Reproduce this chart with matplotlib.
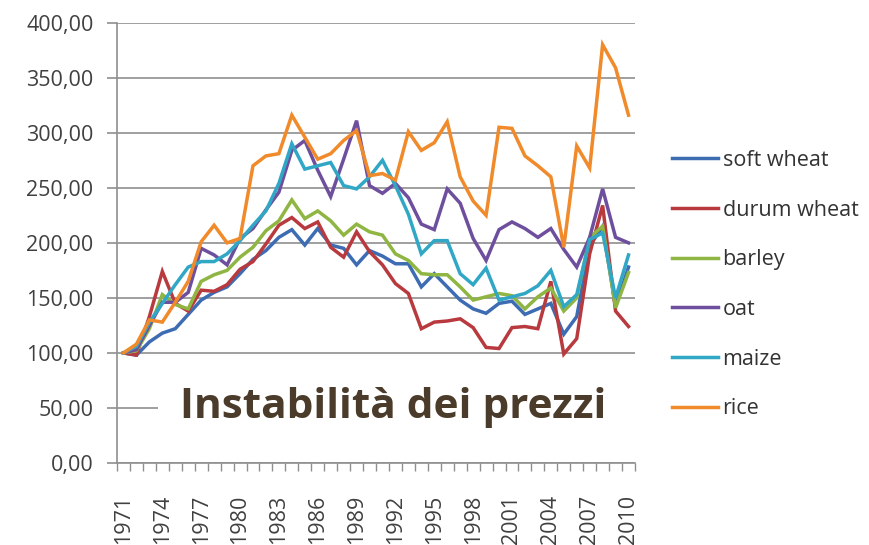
import numpy as np
import matplotlib.pyplot as plt
from matplotlib.patches import Rectangle

# price index, 1971 = 100
years = list(range(1971, 2011))

soft_wheat = [100, 98, 110, 118, 122, 135, 148, 155, 160, 172,
              185, 193, 205, 212, 198, 213, 198, 195, 180, 193,
              188, 181, 181, 160, 172, 160, 148, 140, 136, 145,
              147, 135, 140, 145, 117, 133, 197, 215, 142, 178]
durum_wheat = [100, 98, 133, 174, 145, 138, 157, 156, 162, 176,
               183, 199, 216, 223, 213, 219, 196, 187, 210, 192,
               180, 163, 154, 122, 128, 129, 131, 123, 105, 104,
               123, 124, 122, 165, 99, 113, 190, 234, 138, 124]
barley = [100, 102, 122, 153, 144, 140, 165, 171, 175, 187,
          196, 211, 220, 239, 222, 229, 220, 207, 217, 210,
          207, 190, 184, 172, 171, 171, 160, 148, 151, 154,
          152, 140, 151, 159, 138, 150, 205, 215, 141, 173]
oat = [100, 103, 125, 146, 146, 155, 195, 189, 180, 204,
       213, 230, 246, 284, 293, 266, 242, 276, 311, 252,
       245, 254, 241, 217, 212, 249, 236, 204, 184, 212,
       219, 213, 205, 213, 194, 178, 205, 249, 205, 200]
maize = [100, 106, 128, 145, 162, 178, 183, 183, 190, 202,
         216, 229, 254, 290, 267, 270, 273, 252, 249, 260,
         275, 252, 226, 190, 202, 202, 172, 162, 177, 148,
         151, 154, 161, 175, 142, 153, 203, 209, 150, 189]
rice = [100, 108, 130, 128, 146, 165, 201, 216, 200, 204,
        270, 279, 281, 316, 296, 276, 281, 293, 302, 261,
        263, 257, 301, 284, 291, 310, 260, 238, 225, 305,
        304, 279, 270, 260, 196, 288, 268, 380, 359, 316]

series = [("soft wheat", soft_wheat, "#3d6cb3"),
          ("durum wheat", durum_wheat, "#b83a3f"),
          ("barley", barley, "#8fb642"),
          ("oat", oat, "#6e4f9e"),
          ("maize", maize, "#31a7c6"),
          ("rice", rice, "#f08a2a")]

W, H = 869, 545
fig = plt.figure(figsize=(W / 100, H / 100), dpi=100)
ax = fig.add_axes([117 / W, (H - 463) / H, (635 - 117) / W, (463 - 22.7) / H])

x = np.arange(len(years))
for name, vals, col in series:
    ax.plot(x, vals, color=col, lw=2.5, label=name, solid_joinstyle="miter")

ax.set_xlim(-0.5, len(years) - 0.5)
ax.set_ylim(0, 400)

grid_col = "#8f8f8f"
ax.set_yticks(np.arange(0, 401, 50))
ax.set_yticklabels([f"{v:.2f}".replace(".", ",") for v in np.arange(0, 401, 50)])
ax.yaxis.grid(True, color=grid_col, lw=1.2)
ax.set_axisbelow(True)

ax.set_xticks(x[::3])
ax.set_xticklabels([str(y) for y in years[::3]], rotation=90)
ax.set_xticks(np.arange(-0.5, len(years)), minor=True)

for s in ("top", "right"):
    ax.spines[s].set_visible(False)
for s in ("left", "bottom"):
    ax.spines[s].set_color(grid_col)
    ax.spines[s].set_linewidth(1.2)

lab_font = dict(family="Open Sans", size=15.5)
ax.tick_params(axis="y", length=7, width=1.2, color=grid_col, pad=10,
               labelcolor="#404040", labelsize=15.5)
ax.tick_params(axis="x", which="major", length=0, pad=23,
               labelcolor="#404040", labelsize=15.5)
ax.tick_params(axis="x", which="minor", length=6, width=1, color=grid_col)
for t in ax.get_xticklabels() + ax.get_yticklabels():
    t.set_fontfamily("Open Sans")

leg = fig.legend(loc="upper left", bbox_to_anchor=(672 / W, (H - 150) / H),
                 frameon=False, borderpad=0, borderaxespad=0,
                 handlelength=2.15, handletextpad=0.2, labelspacing=1.33,
                 prop=lab_font)
for t in leg.get_texts():
    t.set_color("#333333")

# white band behind the overlay title
fig.patches.append(Rectangle((158 / W, (H - 440) / H), (645 - 158) / W, 68 / H,
                             transform=fig.transFigure, facecolor="white",
                             edgecolor="none", zorder=5))
fig.text(393 / W, (H - 418) / H, "Instabilità dei prezzi", ha="center",
         va="baseline", family="Open Sans", weight="bold", size=30.5,
         color="#4b3b2b", zorder=6)

fig.savefig("out.png", dpi=100, facecolor="white")
